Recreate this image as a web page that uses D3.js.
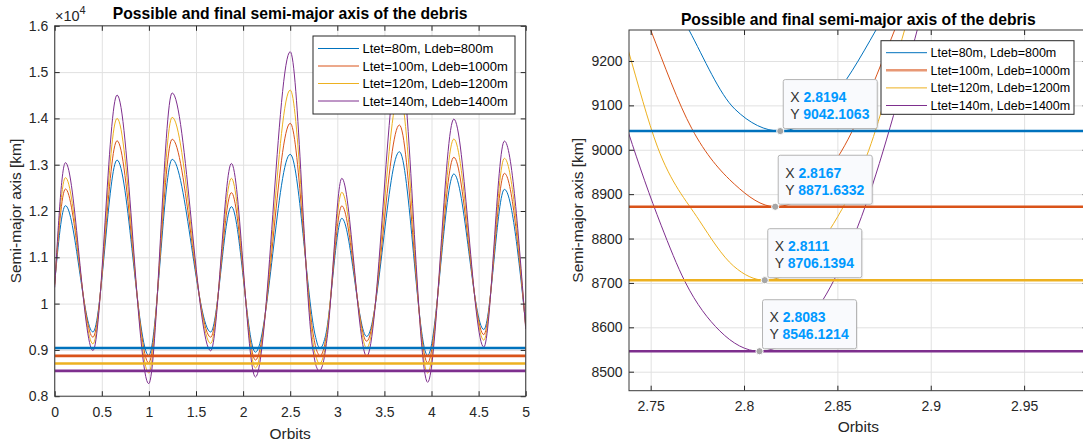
<!DOCTYPE html>
<html>
<head>
<meta charset="utf-8">
<script src="https://cdnjs.cloudflare.com/ajax/libs/d3/7.8.5/d3.min.js"></script>
<style>
    body { margin: 0; background: #fff; }
    svg { display: block; font-family: "Liberation Sans", Arial, sans-serif; }
</style>
</head>
<body>
<div id="chart"></div>
<script>
// legend labels and matlab default colours
const labels = ["Ltet=80m, Ldeb=800m", "Ltet=100m, Ldeb=1000m", "Ltet=120m, Ldeb=1200m", "Ltet=140m, Ldeb=1400m"];
const colors = ["#0072BD", "#D95319", "#EDB120", "#7E2F8E"];

// possible semi-major axis [km] vs orbits, [orbit, km]
const a80 = [[0, 10450], [0.114, 12115], [0.406, 9386], [0.662, 13100], [0.998, 8880], [1.247, 13116],
    [1.656, 9386], [1.876, 12094], [2.131, 8950], [2.50, 13224], [2.7705, 9270], [2.795, 9092],
    [2.8194, 9042.1], [2.845, 9105], [2.8707, 9270], [3.048, 11842], [3.312, 9290], [3.659, 13280],
    [3.959, 8880], [4.237, 12800], [4.555, 9440], [4.774, 12467], [5, 9550]];
const a100 = [[0, 10420], [0.114, 12475], [0.406, 9274], [0.662, 13517], [0.998, 8717], [1.247, 13550],
    [1.656, 9274], [1.876, 12396], [2.131, 8780], [2.50, 13894], [2.75, 9270], [2.772, 9048],
    [2.795, 8922], [2.8167, 8871.6], [2.85, 8982], [2.8807, 9270], [3.048, 12110], [3.312, 9187],
    [3.659, 13857], [3.959, 8717], [4.237, 13160], [4.555, 9330], [4.774, 12813], [5, 9520]];
const a120 = [[0, 10400], [0.114, 12720], [0.406, 9130], [0.662, 14000], [0.998, 8500], [1.247, 14024],
    [1.656, 9140], [1.876, 12706], [2.131, 8610], [2.50, 14613], [2.738, 9224], [2.7537, 9006],
    [2.776, 8841], [2.7944, 8738], [2.8111, 8706.1], [2.848, 8834], [2.8655, 8984], [2.886, 9270],
    [3.048, 12404], [3.312, 9040], [3.659, 14570], [3.959, 8500], [4.237, 13555], [4.555, 9210],
    [4.774, 13138], [5, 9500]];
const a140 = [[0, 10350], [0.114, 13044], [0.406, 8986], [0.662, 14505], [0.998, 8270], [1.247, 14550],
    [1.656, 8980], [1.876, 13027], [2.131, 8414], [2.50, 15440], [2.738, 9040], [2.7556, 8830],
    [2.7685, 8702], [2.787, 8592], [2.8083, 8546.1], [2.8417, 8658], [2.861, 8828], [2.8915, 9250],
    [3.048, 12706], [3.312, 8860], [3.659, 15350], [3.959, 8300], [4.237, 13986], [4.555, 9060],
    [4.774, 13510], [5, 9450]];
const series = [a80, a100, a120, a140];

// final semi-major axis (data tips)
const finalOrbit = [2.8194, 2.8167, 2.8111, 2.8083];
const finalA = [9042.1063, 8871.6332, 8706.1394, 8546.1214];

// ticks
const leftXTicks = [0, 0.5, 1, 1.5, 2, 2.5, 3, 3.5, 4, 4.5, 5];
const leftYTicks = [8000, 9000, 10000, 11000, 12000, 13000, 14000, 15000, 16000];
const rightXTicks = [2.75, 2.8, 2.85, 2.9, 2.95];
const rightYTicks = [8500, 8600, 8700, 8800, 8900, 9000, 9100, 9200];

const title = "Possible and final semi-major axis of the debris";

const width = 1083,
    height = 446;

const svg = d3.select("#chart").append("svg")
    .attr("width", width)
    .attr("height", height);

// left panel: full run
const left = {
    id: "l",
    x: d3.scaleLinear().domain([0, 5]).range([54.7, 525.7]),
    y: d3.scaleLinear().domain([8000, 16000]).range([396.2, 25.8]),
    xTicks: leftXTicks,
    yTicks: leftYTicks,
    xFmt: d => String(d),
    yFmt: d => String(+(d / 1e4).toFixed(1)),
    xPad: 10.5,
    titleY: 19,
    xlabelY: 438.5,
    ylabelX: 15.5,
    legend: { x: 313, y: 36, w: 202, h: 78, row0: 48.5, dy: 17.5, size: 13 }
};

// right panel: zoom on the final values
const right = {
    id: "r",
    x: d3.scaleLinear().domain([2.7384, 2.984]).range([629, 1087.6]),
    y: d3.scaleLinear().domain([8457.2, 9269.8]).range([390.7, 30]),
    xTicks: rightXTicks,
    yTicks: rightYTicks,
    xFmt: d => String(d),
    yFmt: d => String(d),
    xPad: 10.3,
    titleY: 24.5,
    xlabelY: 431.5,
    ylabelX: 577.5,
    legend: { x: 881, y: 40.7, w: 193, h: 73.6, row0: 52.7, dy: 17.6, size: 12.5 }
};

drawPanel(left);
drawPanel(right);
drawExponent();
drawTips(right);

function drawPanel(p) {
    const [x0, x1] = p.x.range();
    const [y0, y1] = p.y.range();
    const w = x1 - x0,
        h = y0 - y1;

    const g = svg.append("g");

    g.append("clipPath").attr("id", "clip-" + p.id)
        .append("rect").attr("x", x0).attr("y", y1).attr("width", w).attr("height", h);

    // grid
    g.append("g")
        .attr("transform", "translate(0," + y0 + ")")
        .call(d3.axisBottom(p.x).tickValues(p.xTicks).tickSize(-h).tickFormat(""))
        .call(s => s.select(".domain").remove())
        .selectAll("line").attr("stroke", "#e1e1e1");
    g.append("g")
        .attr("transform", "translate(" + x0 + ",0)")
        .call(d3.axisLeft(p.y).tickValues(p.yTicks).tickSize(-w).tickFormat(""))
        .call(s => s.select(".domain").remove())
        .selectAll("line").attr("stroke", "#e1e1e1");

    const line = d3.line()
        .x(d => p.x(d[0]))
        .y(d => p.y(d[1]))
        .curve(d3.curveMonotoneX);

    const plot = g.append("g").attr("clip-path", "url(#clip-" + p.id + ")");

    // possible semi-major axis
    plot.selectAll(".curve")
        .data(series)
        .enter().append("path")
        .attr("class", "curve")
        .attr("d", line)
        .attr("fill", "none")
        .attr("stroke", (d, i) => colors[i])
        .attr("stroke-width", 1);

    // final semi-major axis
    plot.selectAll(".final")
        .data(finalA)
        .enter().append("line")
        .attr("class", "final")
        .attr("x1", x0)
        .attr("x2", x1)
        .attr("y1", d => p.y(d))
        .attr("y2", d => p.y(d))
        .attr("stroke", (d, i) => colors[i])
        .attr("stroke-width", 2.6);

    // axes, ticks inside like matlab
    const bottom = g.append("g")
        .attr("transform", "translate(0," + y0 + ")")
        .call(d3.axisBottom(p.x).tickValues(p.xTicks).tickSizeInner(-5).tickSizeOuter(0)
            .tickPadding(p.xPad).tickFormat(p.xFmt));
    const leftAx = g.append("g")
        .attr("transform", "translate(" + x0 + ",0)")
        .call(d3.axisLeft(p.y).tickValues(p.yTicks).tickSizeInner(-5).tickSizeOuter(0)
            .tickPadding(6.4).tickFormat(p.yFmt));
    const top = g.append("g")
        .attr("transform", "translate(0," + y1 + ")")
        .call(d3.axisTop(p.x).tickValues(p.xTicks).tickSizeInner(-5).tickSizeOuter(0).tickFormat(""));
    const rightAx = g.append("g")
        .attr("transform", "translate(" + x1 + ",0)")
        .call(d3.axisRight(p.y).tickValues(p.yTicks).tickSizeInner(-5).tickSizeOuter(0).tickFormat(""));

    [bottom, leftAx, top, rightAx].forEach(a => {
        a.select(".domain").remove();
        a.selectAll("line").attr("stroke", "#262626");
        a.selectAll("text")
            .attr("fill", "#262626")
            .attr("font-size", 14)
            .attr("font-family", "Liberation Sans, Arial, sans-serif");
    });

    // box
    g.append("rect")
        .attr("x", x0).attr("y", y1).attr("width", w).attr("height", h)
        .attr("fill", "none")
        .attr("stroke", "#3a3a3a")
        .attr("stroke-width", 1);

    // title and labels
    g.append("text")
        .attr("x", (x0 + x1) / 2)
        .attr("y", p.titleY)
        .attr("text-anchor", "middle")
        .attr("font-size", 15.7)
        .attr("font-weight", "bold")
        .attr("fill", "#000")
        .text(title);

    g.append("text")
        .attr("x", (x0 + x1) / 2)
        .attr("y", p.xlabelY)
        .attr("text-anchor", "middle")
        .attr("font-size", 15.5)
        .attr("fill", "#262626")
        .text("Orbits");

    g.append("text")
        .attr("transform", "translate(" + p.ylabelX + "," + (y0 + y1) / 2 + ") rotate(-90)")
        .attr("dy", "0.35em")
        .attr("text-anchor", "middle")
        .attr("font-size", 15.5)
        .attr("fill", "#262626")
        .text("Semi-major axis [km]");

    // legend
    const L = p.legend;
    const lg = g.append("g");
    lg.append("rect")
        .attr("x", L.x).attr("y", L.y).attr("width", L.w).attr("height", L.h)
        .attr("fill", "#fff")
        .attr("stroke", "#262626")
        .attr("stroke-width", 1);
    const row = lg.selectAll(".row")
        .data(labels)
        .enter().append("g")
        .attr("class", "row")
        .attr("transform", (d, i) => "translate(0," + (L.row0 + i * L.dy) + ")");
    row.append("line")
        .attr("x1", L.x + 5)
        .attr("x2", L.x + 46)
        .attr("stroke", (d, i) => colors[i])
        .attr("stroke-width", (d, i) => (p.id === "r" && i === 1) ? 2.4 : 1)
        .attr("stroke-opacity", (d, i) => (p.id === "r" && i === 1) ? 0.6 : 1);
    row.append("text")
        .attr("x", L.x + 49.5)
        .attr("dy", "0.35em")
        .attr("font-size", L.size)
        .attr("fill", "#000")
        .text(d => d);
}

function drawExponent() {
    const t = svg.append("text")
        .attr("x", 55)
        .attr("y", 20.5)
        .attr("font-size", 14.5)
        .attr("fill", "#262626");
    t.append("tspan").text("\u00d710");
    t.append("tspan").attr("dy", -6.5).attr("font-size", 11).text("4");
}

function drawTips(p) {
    const tips = finalOrbit.map((o, i) => ({ o: o, a: finalA[i] }));

    const g = svg.append("g");
    const tip = g.selectAll(".tip")
        .data(tips)
        .enter().append("g")
        .attr("class", "tip")
        .attr("transform", d => "translate(" + p.x(d.o) + "," + p.y(d.a) + ")");

    // shadow, box
    tip.append("rect")
        .attr("x", 4.5).attr("y", -50).attr("width", 94).attr("height", 49)
        .attr("rx", 2)
        .attr("fill", "#000")
        .attr("opacity", 0.06);
    tip.append("rect")
        .attr("x", 3).attr("y", -51.5).attr("width", 94).attr("height", 49)
        .attr("rx", 2)
        .attr("fill", "#f9fafd")
        .attr("stroke", "#b4b4b4")
        .attr("stroke-width", 1);

    const tx = tip.append("text")
        .attr("x", 10)
        .attr("y", -29)
        .attr("font-size", 14);
    tx.append("tspan").attr("fill", "#333").text("X ");
    tx.append("tspan").attr("fill", "#0099ff").attr("font-weight", "bold").text(d => d.o.toFixed(4));

    const ty = tip.append("text")
        .attr("x", 10)
        .attr("y", -12)
        .attr("font-size", 14);
    ty.append("tspan").attr("fill", "#333").text("Y ");
    ty.append("tspan").attr("fill", "#0099ff").attr("font-weight", "bold").text(d => d.a.toFixed(4));

    // marker
    tip.append("circle")
        .attr("r", 3.6)
        .attr("fill", "#a6a6a6")
        .attr("stroke", "#fff")
        .attr("stroke-width", 1);
}
</script>
</body>
</html>
